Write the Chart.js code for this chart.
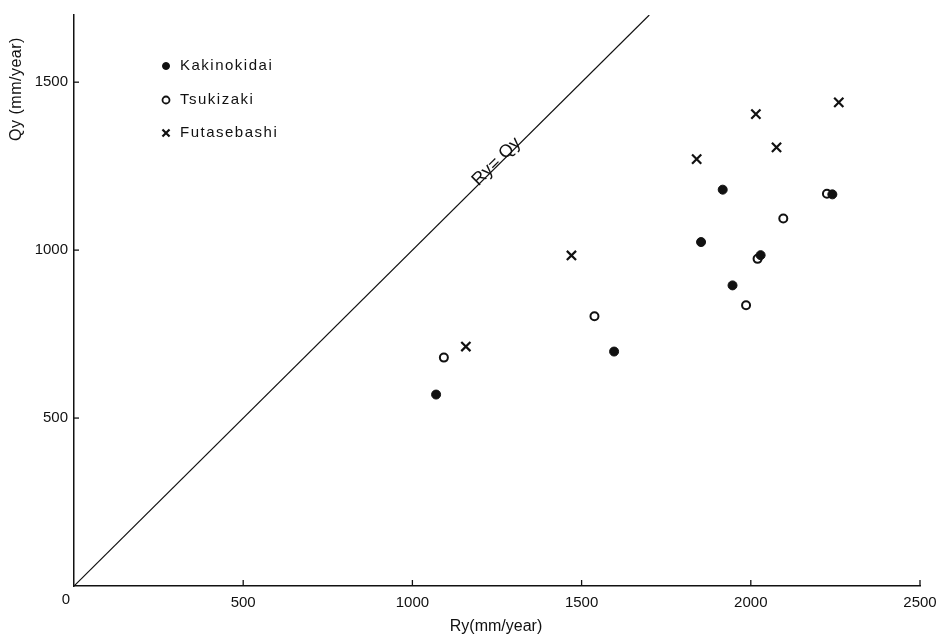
<!DOCTYPE html>
<html>
<head>
<meta charset="utf-8">
<script src="https://cdn.jsdelivr.net/npm/chart.js@4.4.1/dist/chart.umd.min.js"></script>
<style>
    html, body { margin: 0; padding: 0; background: #fff; }
</style>
</head>
<body>
<canvas id="chartRyQy" width="947" height="640"></canvas>
<script>
/* =========================================================
   DATA
========================================================= */
const seriesNames = ["Kakinokidai", "Tsukizaki", "Futasebashi"];

const kakinokidaiRy = [1070, 1596, 1917, 2241, 1853, 2029, 1946];
const kakinokidaiQy = [570, 698, 1180, 1166, 1024, 985, 895];

const tsukizakiRy = [1093, 1538, 1986, 2020, 2096, 2225];
const tsukizakiQy = [680, 803, 836, 974, 1094, 1168];

const futasebashiRy = [1158, 1470, 1840, 2015, 2076, 2260];
const futasebashiQy = [713, 984, 1271, 1405, 1306, 1440];

const lineRy = [0, 1700];
const lineQy = [0, 1700];

const xTicks = [500, 1000, 1500, 2000, 2500];
const yTicks = [500, 1000, 1500];

const INK = "#111";
const FONT = "'Liberation Sans', Arial, sans-serif";

function toPoints(xs, ys) {
    return xs.map((x, i) => ({ x: x, y: ys[i] }));
}

/* =========================================================
   EXTRA DRAWING: inward ticks, "0", titles, legend, label
========================================================= */
const decorPlugin = {
    id: "decor",
    afterDraw(chart) {
        const c = chart.ctx;
        const xs = chart.scales.x;
        const ys = chart.scales.y;
        const bottom = ys.getPixelForValue(0);
        const left = xs.getPixelForValue(0);

        c.save();
        c.strokeStyle = INK;
        c.lineWidth = 1.3;

        // ticks pointing into the plot
        xTicks.forEach(v => {
            const px = xs.getPixelForValue(v);
            c.beginPath();
            c.moveTo(px, bottom);
            c.lineTo(px, bottom - 6);
            c.stroke();
        });
        yTicks.forEach(v => {
            const py = ys.getPixelForValue(v);
            c.beginPath();
            c.moveTo(left, py);
            c.lineTo(left + 5, py);
            c.stroke();
        });

        c.fillStyle = INK;
        c.font = "15px " + FONT;
        c.textAlign = "center";
        c.textBaseline = "middle";
        c.fillText("0", left - 8, bottom + 14);

        // axis titles
        c.font = "16px " + FONT;
        c.fillText("Ry(mm/year)", 496, 627);

        c.save();
        c.translate(17, 89);
        c.rotate(-Math.PI / 2);
        c.letterSpacing = "0.5px";
        c.fillText("Qy (mm/year)", 0, 0);
        c.restore();

        // label along the 1:1 line
        const lx = xs.getPixelForValue(1265);
        const ly = ys.getPixelForValue(1265);
        const ang = Math.atan2(ys.getPixelForValue(1700) - ys.getPixelForValue(0),
                               xs.getPixelForValue(1700) - xs.getPixelForValue(0));
        c.save();
        c.translate(lx - 2, ly + 4);
        c.rotate(ang);
        c.font = "18px " + FONT;
        c.textBaseline = "alphabetic";
        c.fillText("Ry= Qy", 0, 0);
        c.restore();

        // legend
        const rows = [66, 100, 133];
        c.textAlign = "left";
        c.textBaseline = "middle";
        c.font = "15px " + FONT;
        c.letterSpacing = "1.5px";
        seriesNames.forEach((name, i) => {
            const ds = chart.data.datasets[i];
            Chart.helpers.drawPoint(c, {
                pointStyle: ds.pointStyle,
                radius: ds.pointStyle === "crossRot" ? 5 : 3.5,
                borderWidth: ds.borderWidth === 2 ? 1.8 : ds.borderWidth
            }, 166, rows[i]);
            c.fillStyle = INK;
            c.fillText(name, 180, rows[i]);
        });
        c.restore();
    }
};

// drawPoint reads colours from ctx, so set them per style
const origDrawPoint = Chart.helpers.drawPoint;
Chart.helpers.drawPoint = function (ctx, opts, x, y) {
    ctx.save();
    ctx.strokeStyle = INK;
    ctx.lineWidth = opts.borderWidth;
    ctx.fillStyle = opts.pointStyle === "circle" && opts.borderWidth > 1.5 ? "#fff" : INK;
    origDrawPoint(ctx, opts, x, y);
    ctx.restore();
};

/* =========================================================
   CHART
========================================================= */
const canvas = document.getElementById("chartRyQy");

new Chart(canvas, {
    type: "scatter",
    data: {
        datasets: [
            {
                label: seriesNames[0],
                data: toPoints(kakinokidaiRy, kakinokidaiQy),
                pointStyle: "circle",
                pointRadius: 4.5,
                backgroundColor: INK,
                borderColor: INK,
                borderWidth: 1,
                order: 1
            },
            {
                label: seriesNames[1],
                data: toPoints(tsukizakiRy, tsukizakiQy),
                pointStyle: "circle",
                pointRadius: 4,
                backgroundColor: "#fff",
                borderColor: INK,
                borderWidth: 2,
                order: 2
            },
            {
                label: seriesNames[2],
                data: toPoints(futasebashiRy, futasebashiQy),
                pointStyle: "crossRot",
                pointRadius: 6.5,
                backgroundColor: INK,
                borderColor: INK,
                borderWidth: 2.2,
                order: 3
            },
            {
                type: "line",
                label: "Ry = Qy",
                data: toPoints(lineRy, lineQy),
                borderColor: INK,
                borderWidth: 1.2,
                pointRadius: 0,
                fill: false,
                order: 10
            }
        ]
    },
    options: {
        responsive: false,
        animation: false,
        devicePixelRatio: 1,
        layout: { padding: { top: 6, right: 27, left: 0, bottom: 0 } },
        plugins: {
            legend: { display: false },
            tooltip: { enabled: false }
        },
        scales: {
            x: {
                type: "linear",
                min: 0,
                max: 2500,
                afterBuildTicks: s => { s.ticks = xTicks.map(v => ({ value: v })); },
                afterFit: s => { s.height = 54; },
                grid: { display: false, drawTicks: false },
                border: { display: true, color: INK, width: 1.5 },
                ticks: {
                    color: INK,
                    padding: 8,
                    callback: v => String(v),
                    font: { family: FONT, size: 15 }
                }
            },
            y: {
                type: "linear",
                min: 0,
                max: 1700,
                afterBuildTicks: s => { s.ticks = yTicks.map(v => ({ value: v })); },
                afterFit: s => { s.width = 74; },
                grid: { display: false, drawTicks: false },
                border: { display: true, color: INK, width: 1.5 },
                ticks: {
                    color: INK,
                    padding: 6,
                    callback: v => String(v),
                    font: { family: FONT, size: 15 }
                }
            }
        }
    },
    plugins: [decorPlugin]
});
</script>
</body>
</html>
